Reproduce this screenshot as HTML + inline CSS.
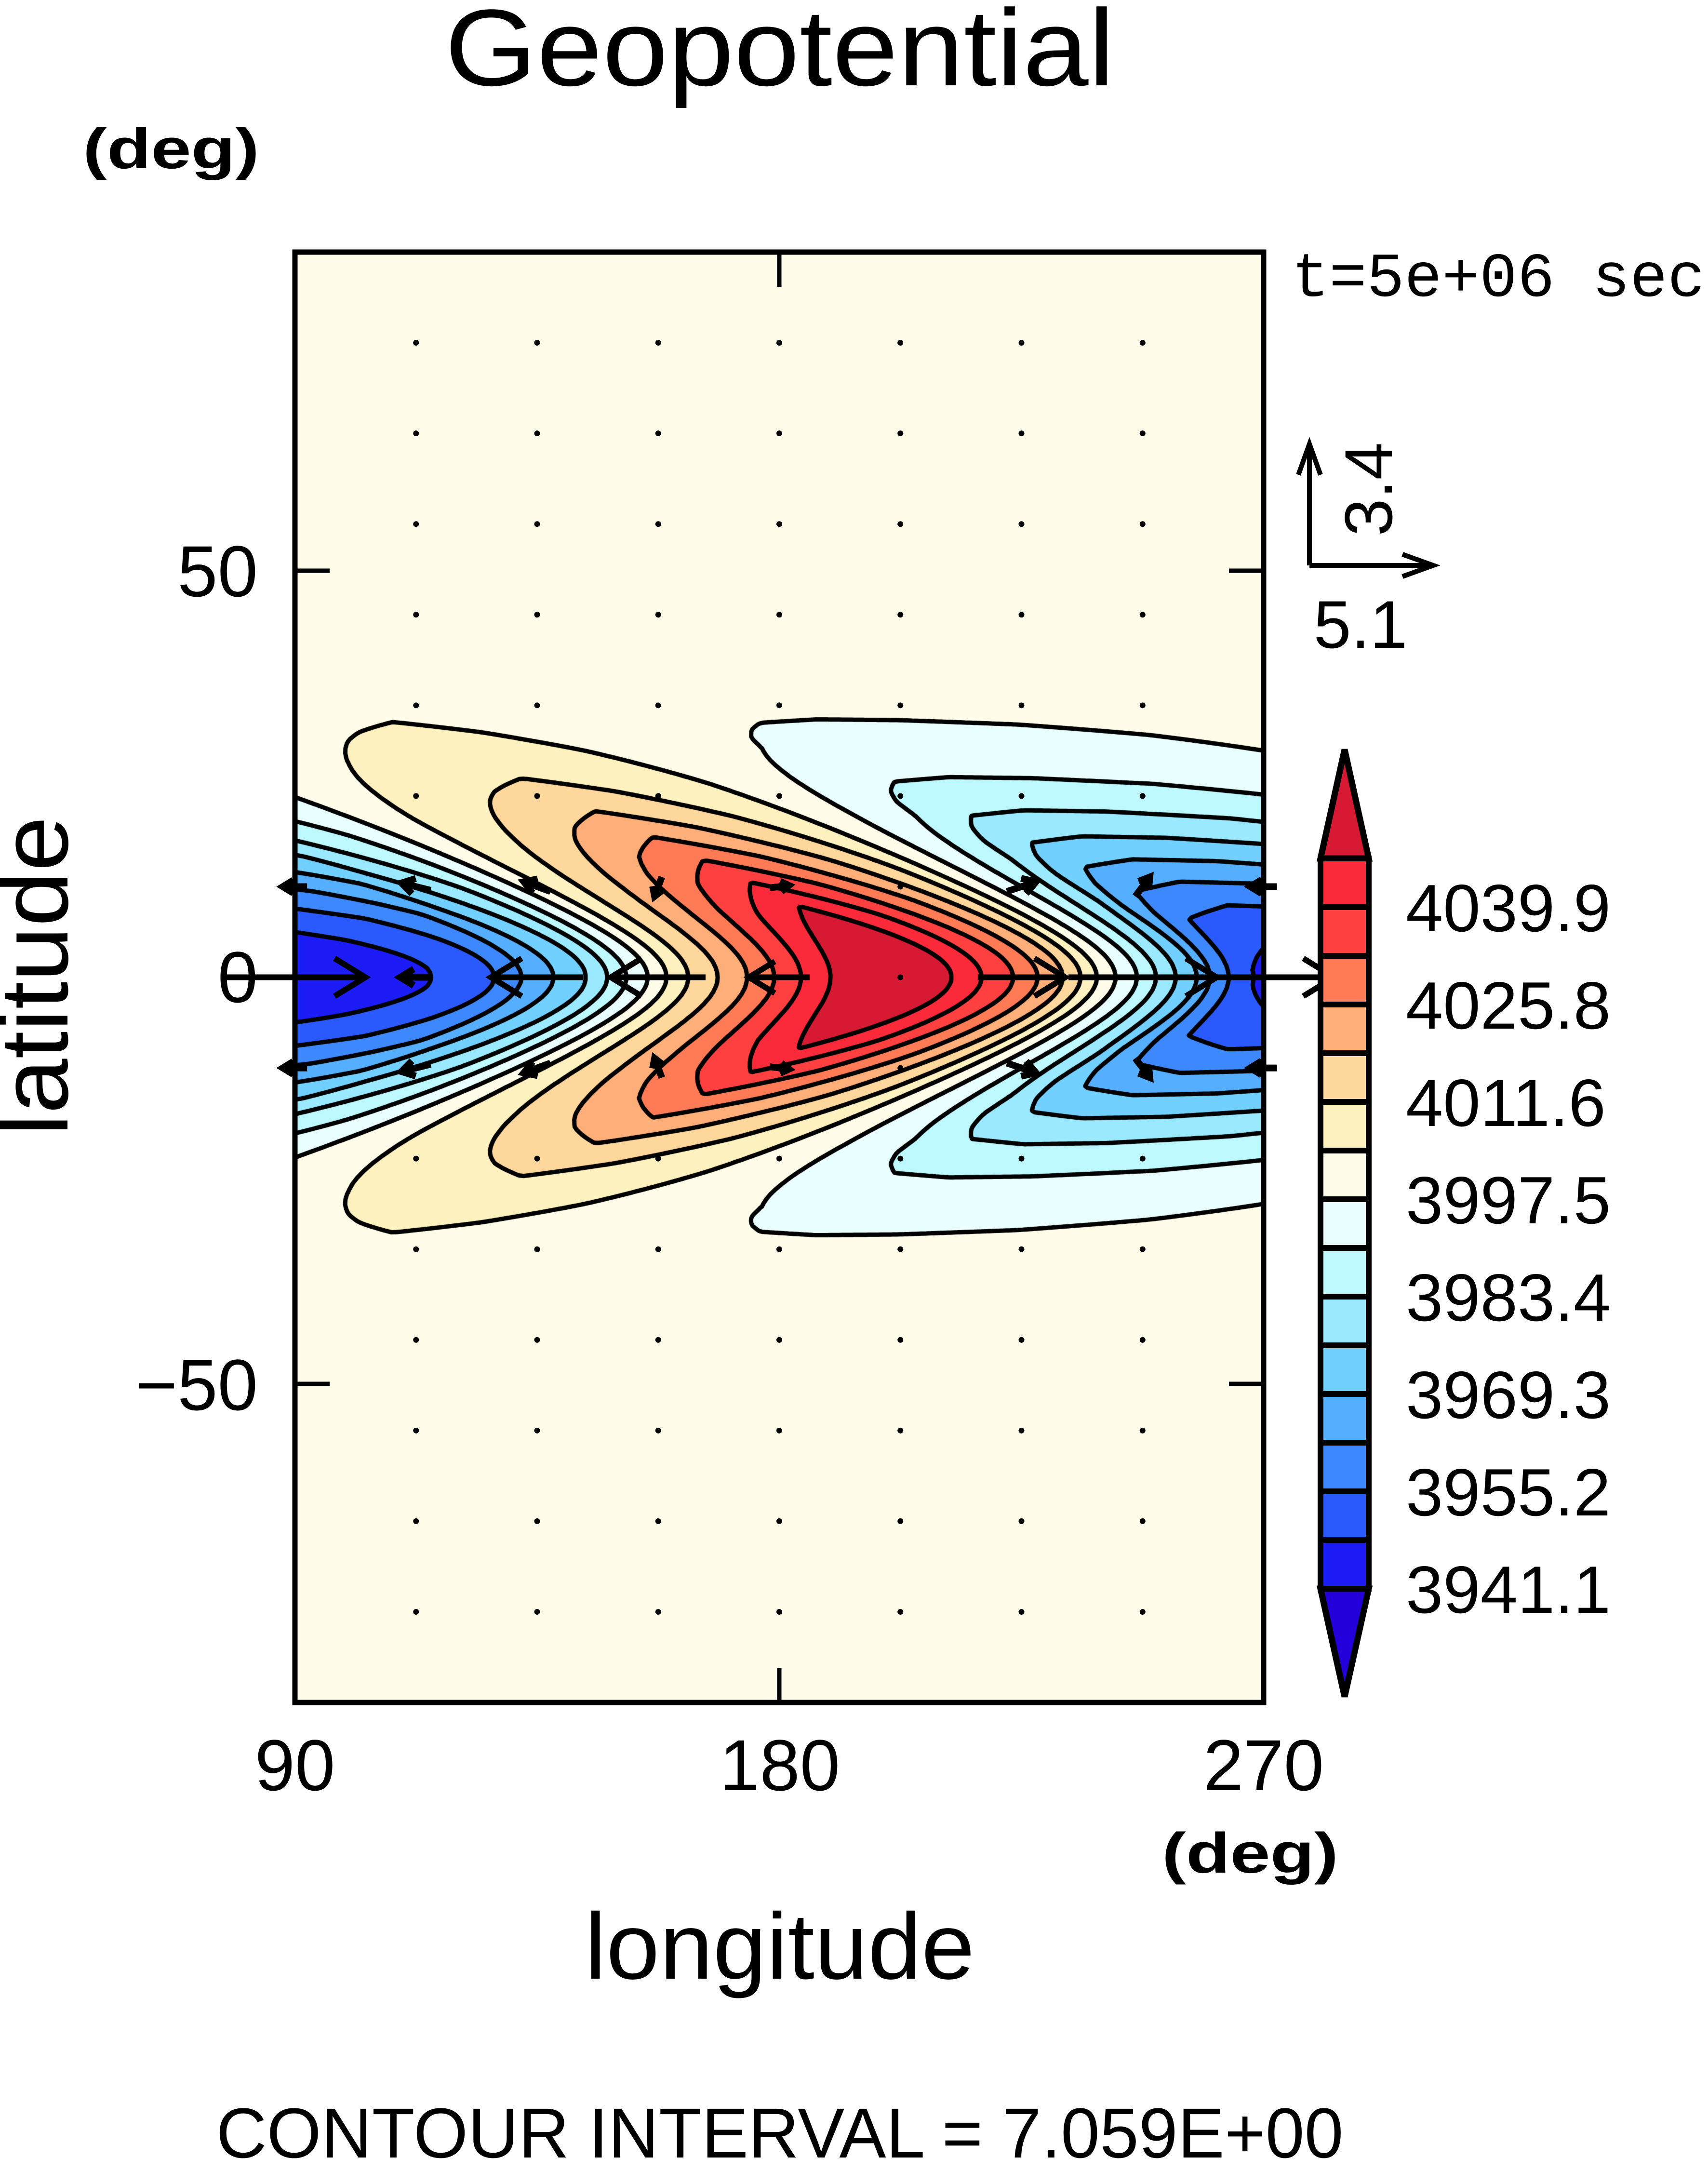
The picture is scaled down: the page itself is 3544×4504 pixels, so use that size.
<!DOCTYPE html>
<html><head><meta charset="utf-8"><title>Geopotential</title>
<style>
html,body{margin:0;padding:0;background:#fff;}
#wrap{position:relative;width:3544px;height:4504px;overflow:hidden;background:#fff;}
#field{position:absolute;left:612px;top:523px;}
#over{position:absolute;left:0;top:0;}
text{font-family:"Liberation Sans",sans-serif;fill:#000;}
</style></head>
<body>
<div id="wrap">
<canvas id="field" width="2010" height="3009"></canvas>
<svg id="over" width="3544" height="4504" viewBox="0 0 3544 4504" xmlns="http://www.w3.org/2000/svg">
  <text x="1618" y="177" font-size="226" text-anchor="middle" textLength="1390" lengthAdjust="spacingAndGlyphs">Geopotential</text>
  <text x="355" y="349" font-size="118" font-weight="bold" text-anchor="middle" textLength="366" lengthAdjust="spacingAndGlyphs">(deg)</text>
  <text x="2680" y="614" font-size="130" textLength="858" lengthAdjust="spacingAndGlyphs" style="font-family:'Liberation Mono',monospace">t=5e+06 sec</text>
  <g id="vecs"></g>
  <rect x="612" y="523" width="2010" height="3009" fill="none" stroke="#000" stroke-width="11"/>
  <g stroke="#000" stroke-width="9">
    <line x1="612" y1="1184" x2="684" y2="1184"/><line x1="2550" y1="1184" x2="2622" y2="1184"/>
    <line x1="612" y1="2871" x2="684" y2="2871"/><line x1="2550" y1="2871" x2="2622" y2="2871"/>
    <line x1="1617" y1="523" x2="1617" y2="595"/><line x1="1617" y1="3460" x2="1617" y2="3532"/>
  </g>
  <g font-size="150">
    <text x="535" y="1237" text-anchor="end">50</text>
    <text x="535" y="2079" text-anchor="end">0</text>
    <text x="535" y="2925" text-anchor="end">−50</text>
  </g>
  <g font-size="150" text-anchor="middle">
    <text x="612" y="3714">90</text>
    <text x="1618" y="3714">180</text>
    <text x="2622" y="3714">270</text>
  </g>
  <text x="2594" y="3885" font-size="118" font-weight="bold" text-anchor="middle" textLength="366" lengthAdjust="spacingAndGlyphs">(deg)</text>
  <text x="1618" y="4105" font-size="195" text-anchor="middle" textLength="809" lengthAdjust="spacingAndGlyphs">longitude</text>
  <text transform="translate(140,2025) rotate(-90)" font-size="200" text-anchor="middle" textLength="663" lengthAdjust="spacingAndGlyphs">latitude</text>
  <g stroke="#000" stroke-width="10" fill="none">
    <line x1="2717" y1="1173" x2="2717" y2="921"/>
    <polyline points="2694,985 2717,921 2740,985"/>
    <line x1="2717" y1="1173" x2="2974" y2="1173"/>
    <polyline points="2910,1150 2974,1173 2910,1196"/>
  </g>
  <text transform="translate(2888,1015) rotate(-90)" font-size="140" text-anchor="middle">3.4</text>
  <text x="2823" y="1344" font-size="140" text-anchor="middle">5.1</text>
  <g id="cbar"></g>
  <g id="cbarlabels" font-size="139"></g>
  <text x="1618" y="4476" font-size="147" text-anchor="middle" textLength="2339" lengthAdjust="spacingAndGlyphs">CONTOUR INTERVAL = 7.059E+00</text>
</svg>
</div>
<script>
// ---- data ----
const eqLon = [90,96,105,115,122,127,132,138,144,148,151.5,155.5,159,163,168.5,174,179,184,189.5,200,212,217.6,223.5,228,232.7,236,239,242.5,246.5,250,253.7,257.6,260,263.5,268,280,295,315,335,355,380,420,500,900];
const eqPhi = [3944,3943,3945,3948,3952,3955.2,3962.2,3969.3,3976.3,3983.4,3990.4,3997.5,4004.6,4011.6,4018.7,4025.8,4032.8,4039.9,4047,4058,4047,4039.9,4032.8,4025.8,4018.7,4011.6,4004.6,3997.5,3990.4,3983.4,3976.3,3969.3,3962.2,3955.2,3948.1,3944,3945,3950,3960,3975,3995,4020,4040,4040];
const meanPhi = [4001];
const levelBase = [3941.1];
const levelStep = [7.059];
const levelCount = [16];
const fillColors = ["#2300d9","#1c1cf6","#2a5afe","#3e88fe","#56aefe","#72d0fe","#9ae9fe","#bdf8fe","#e9fefe","#fffde9","#fef1c0","#fed79c","#feae78","#fe7b55","#fe4040","#fb2a3a","#d61a33"];
const cbarLabels = ["4039.9","4025.8","4011.6","3997.5","3983.4","3969.3","3955.2","3941.1"];
const vecLon = [90,112.5,135,157.5,180,202.5,225,247.5,270];
const uEq = [5.8,-1.3,-3.8,-3.9,-2.5,0,3.6,6.1,5.8];
const uOff = [-1.0,-1.2,-1.1,-0.3,0.8,0,1.2,0.6,-1.1];
const vOff = [0,0.3,0.4,-0.8,0.1,0,0.4,0.8,0];
const dotLats = [78.75,67.5,56.25,45,33.75,22.5,-22.5,-33.75,-45,-56.25,-67.5,-78.75];

// ---- axes ----
const X0=612, X1=2622, Y0=523, Y1=3532;
const xOf = lon => X0 + (lon-90)/180*(X1-X0);
const yOf = lat => Y0 + (90-lat)/180*(Y1-Y0);
const shiftK = 3.5, shiftC = 6, sig = 13.5;

const LT0=90, LTd=0.05, LTn=Math.ceil((900-90)/0.05)+1;
const LT=new Float32Array(LTn);
(function(){let j=0;for(let i=0;i<LTn;i++){const L=LT0+i*LTd;while(j<eqLon.length-2&&eqLon[j+1]<L)j++;const t=Math.min(1,Math.max(0,(L-eqLon[j])/(eqLon[j+1]-eqLon[j])));LT[i]=eqPhi[j]+t*(eqPhi[j+1]-eqPhi[j]);}})();
function phi(lon,lat){
  const le=lon+shiftK*(Math.sqrt(lat*lat+shiftC*shiftC)-shiftC);
  let i=Math.round((le-LT0)/LTd); if(i<0)i=0; if(i>=LTn)i=LTn-1;
  return meanPhi[0]+(LT[i]-meanPhi[0])*Math.exp(-lat*lat/(2*sig*sig));
}
const levels=[];for(let i=0;i<levelCount[0];i++)levels.push(levelBase[0]+i*levelStep[0]);

// ---- fill ----
const cv=document.getElementById('field'),ctx=cv.getContext('2d');
const W=cv.width,H=cv.height;
const img=ctx.createImageData(W,H),d=img.data;
const rgb=fillColors.map(c=>[parseInt(c.substr(1,2),16),parseInt(c.substr(3,2),16),parseInt(c.substr(5,2),16)]);
for(let py=0;py<H;py++){
  const lat=90-(py+0.5)/H*180;
  for(let px=0;px<W;px++){
    const lon=90+(px+0.5)/W*180;
    const v=phi(lon,lat);
    let k=0;while(k<levels.length&&v>=levels[k])k++;
    const c=rgb[k],o=(py*W+px)*4;
    d[o]=c[0];d[o+1]=c[1];d[o+2]=c[2];d[o+3]=255;
  }
}
ctx.putImageData(img,0,0);

// ---- contour lines ----
const S=5,nx=Math.ceil(W/S)+1,ny=Math.ceil(H/S)+1;
const G=new Float32Array(nx*ny);
for(let j=0;j<ny;j++)for(let i=0;i<nx;i++){G[j*nx+i]=phi(90+(i*S)/W*180,90-(j*S)/H*180);}
ctx.strokeStyle='#000';ctx.lineWidth=9;ctx.lineCap='round';
ctx.beginPath();
for(const L of levels){
  for(let j=0;j<ny-1;j++)for(let i=0;i<nx-1;i++){
    const a=G[j*nx+i],b=G[j*nx+i+1],c=G[(j+1)*nx+i+1],e=G[(j+1)*nx+i];
    const idx=(a>L?8:0)|(b>L?4:0)|(c>L?2:0)|(e>L?1:0);
    if(idx===0||idx===15)continue;
    const x=i*S,y=j*S;
    const pT=[x+S*(L-a)/(b-a),y],pR=[x+S,y+S*(L-b)/(c-b)],pB=[x+S*(L-e)/(c-e),y+S],pL=[x,y+S*(L-a)/(e-a)];
    const seg=(p,q)=>{ctx.moveTo(p[0],p[1]);ctx.lineTo(q[0],q[1]);};
    switch(idx){
      case 1:case 14:seg(pL,pB);break;
      case 2:case 13:seg(pB,pR);break;
      case 3:case 12:seg(pL,pR);break;
      case 4:case 11:seg(pT,pR);break;
      case 6:case 9:seg(pT,pB);break;
      case 7:case 8:seg(pL,pT);break;
      case 5:seg(pL,pT);seg(pB,pR);break;
      case 10:seg(pT,pR);seg(pL,pB);break;
    }
  }
}
ctx.stroke();

// ---- vectors ----
const NS='http://www.w3.org/2000/svg';
const vg=document.getElementById('vecs');
const pxPerUnit=50.4;
function arrow(lon,lat,u,v,name){
  const cx=xOf(lon),cy=yOf(lat);
  const dx=u*pxPerUnit,dy=-v*pxPerUnit,len=Math.hypot(dx,dy);
  const g=document.createElementNS(NS,'g');
  
  
  if(len<8){
    const c=document.createElementNS(NS,'circle');
    c.setAttribute('cx',cx);c.setAttribute('cy',cy);c.setAttribute('r',6);c.setAttribute('fill','#000');
    g.appendChild(c);vg.appendChild(g);return;
  }
  const x1=cx-dx/2,y1=cy-dy/2,x2=cx+dx/2,y2=cy+dy/2;
  const ux=dx/len,uy=dy/len,h=Math.min(75,len*0.5),ang=0.55;
  const hx1=x2-h*(ux*Math.cos(ang)-uy*Math.sin(ang)),hy1=y2-h*(uy*Math.cos(ang)+ux*Math.sin(ang));
  const hx2=x2-h*(ux*Math.cos(ang)+uy*Math.sin(ang)),hy2=y2-h*(uy*Math.cos(ang)-ux*Math.sin(ang));
  const p=document.createElementNS(NS,'path');
  p.setAttribute('d',`M${x1},${y1}L${x2},${y2}M${hx1},${hy1}L${x2},${y2}L${hx2},${hy2}`);
  p.setAttribute('stroke','#000');p.setAttribute('stroke-width',len>80?12:14);p.setAttribute('fill','none');
  g.appendChild(p);vg.appendChild(g);
}
vecLon.forEach((lon,i)=>{
  arrow(lon,0,uEq[i],0,'vector-eq');
  arrow(lon,11.25,uOff[i],vOff[i],'vector-north');
  arrow(lon,-11.25,uOff[i],-vOff[i],'vector-south');
});
dotLats.forEach(lat=>{
  for(let i=1;i<vecLon.length-1;i++){ arrow(vecLon[i],lat,0,0,'vector-dot'); }
});

// ---- colorbar ----
const cb=document.getElementById('cbar');
const CBX0=2740,CBX1=2840,CBT=1781,CBB=3296,TIPT=1555,TIPB=3520;
const nBox=fillColors.length-2,bh=(CBB-CBT)/nBox;
function mk(tag,attrs,name){const e=document.createElementNS(NS,tag);for(const k in attrs)e.setAttribute(k,attrs[k]);
  
  
  cb.appendChild(e);return e;}
mk('polygon',{points:`${CBX0},${CBT} ${(CBX0+CBX1)/2},${TIPT} ${CBX1},${CBT}`,fill:fillColors[fillColors.length-1],stroke:'#000','stroke-width':13},'colorbar-top-triangle');
mk('polygon',{points:`${CBX0},${CBB} ${(CBX0+CBX1)/2},${TIPB} ${CBX1},${CBB}`,fill:fillColors[0],stroke:'#000','stroke-width':13},'colorbar-bottom-triangle');
for(let i=0;i<nBox;i++){
  mk('rect',{x:CBX0,y:CBT+i*bh,width:CBX1-CBX0,height:bh,fill:fillColors[fillColors.length-2-i],stroke:'#000','stroke-width':12},'colorbar-box');
}
const cl=document.getElementById('cbarlabels');
cbarLabels.forEach((t,i)=>{
  const e=document.createElementNS(NS,'text');
  e.setAttribute('x',2917);e.setAttribute('y',CBT+bh*(1+2*i)+50);
  
  
  e.textContent=t;cl.appendChild(e);
});
</script>
</body></html>
